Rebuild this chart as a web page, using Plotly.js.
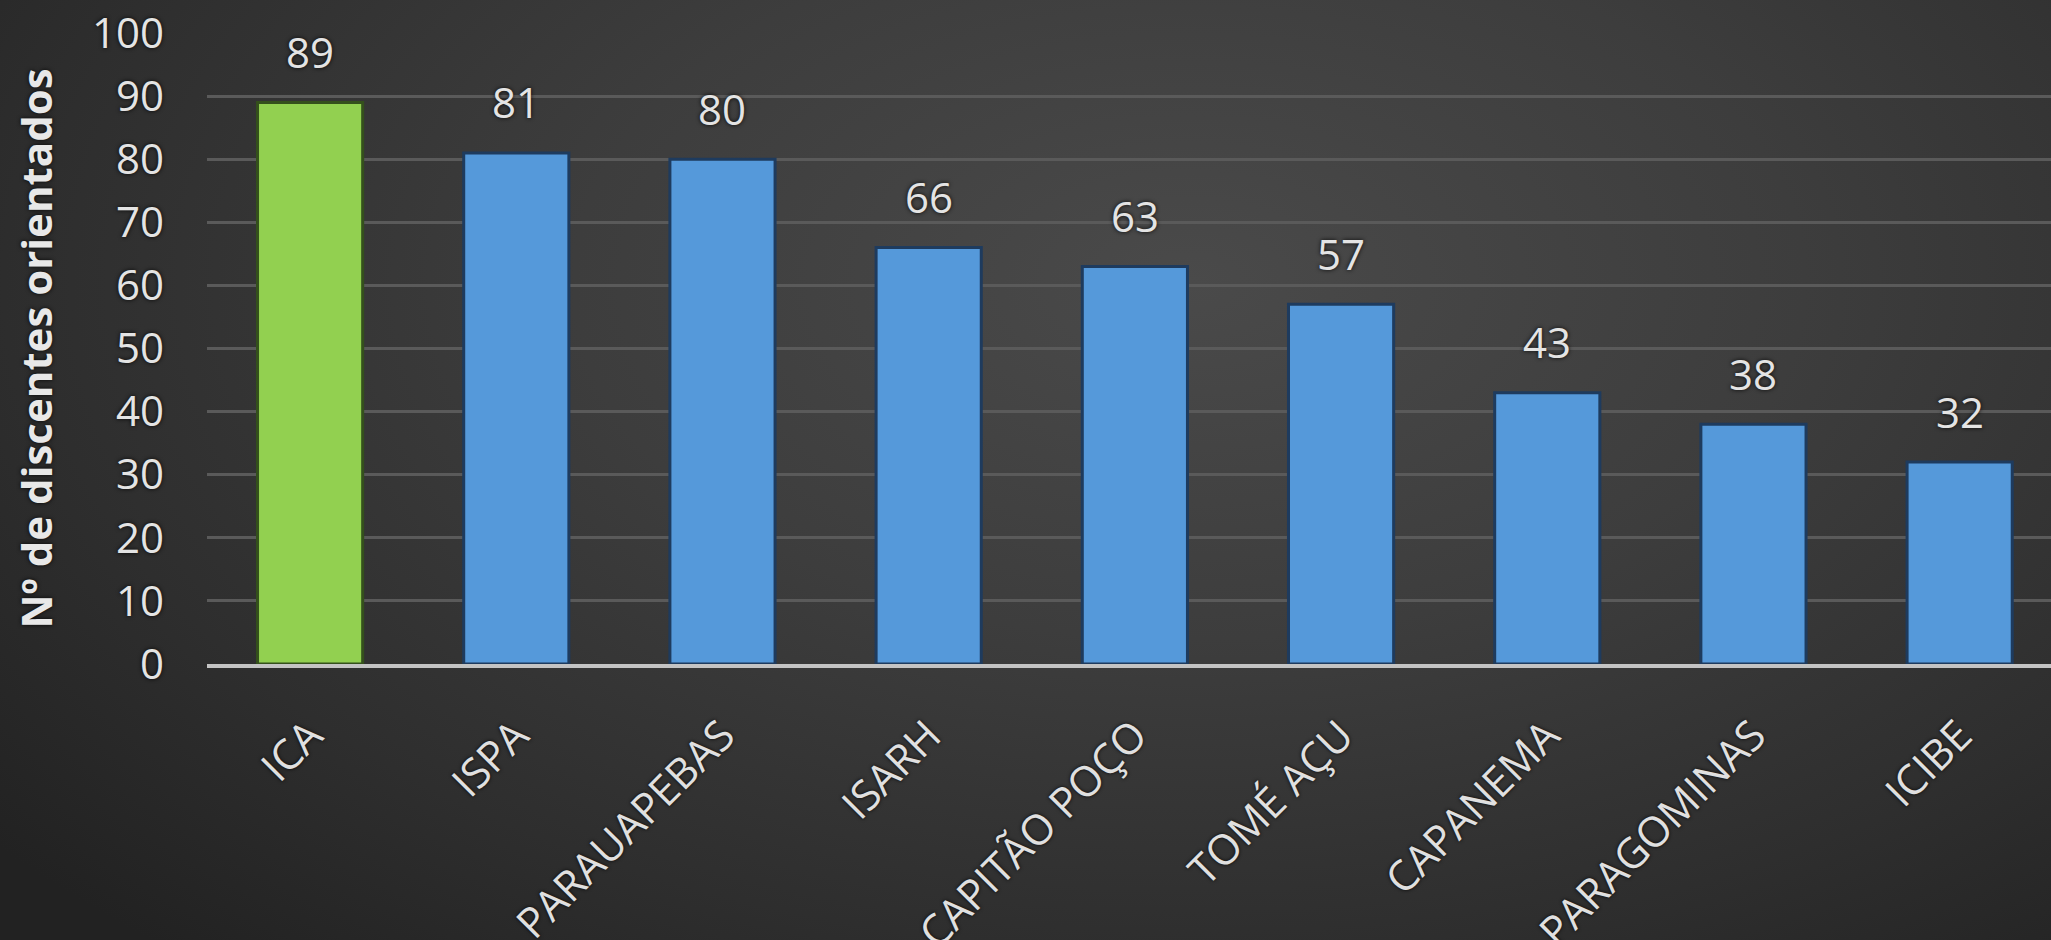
<!DOCTYPE html>
<html>
<head>
<meta charset="utf-8">
<script src="https://cdn.plot.ly/plotly-3.0.1.min.js"></script>
<style>
  html, body { margin: 0; padding: 0; width: 2051px; height: 940px; overflow: hidden; }
  body { background: radial-gradient(ellipse 75% 95% at 58% 30%, #4a4a4a 0%, #3d3d3d 40%, #2e2e2e 75%, #222222 100%); }
  #chart { width: 2051px; height: 940px; }
</style>
</head>
<body>
<div id="chart"></div>
<script>
const categories = ["ICA", "ISPA", "PARAUAPEBAS", "ISARH", "CAPITÃO POÇO", "TOMÉ AÇU", "CAPANEMA", "PARAGOMINAS", "ICIBE"];
const values = [89, 81, 80, 66, 63, 57, 43, 38, 32];
const barColors = ["#92d050", "#5599da", "#5599da", "#5599da", "#5599da", "#5599da", "#5599da", "#5599da", "#5599da"];
const edgeColors = ["#34501c", "#1e3b5e", "#1e3b5e", "#1e3b5e", "#1e3b5e", "#1e3b5e", "#1e3b5e", "#1e3b5e", "#1e3b5e"];
const yTickValues = [0, 10, 20, 30, 40, 50, 60, 70, 80, 90, 100];
const yTitle = "Nº de discentes orientados";

const textFont = { family: "Open Sans, sans-serif", size: 42, color: "#e4e4e4", shadow: "0px 0px 4px rgba(0,0,0,0.9)" };

const trace = {
  type: "bar",
  x: categories,
  y: values,
  marker: { color: barColors, line: { color: edgeColors, width: 3 } },
  hoverinfo: "x+y"
};

const annotations = categories.map((c, i) => ({
  x: c, y: values[i], xref: "x", yref: "y",
  text: String(values[i]),
  showarrow: false, yanchor: "middle", yshift: 51,
  font: textFont
}));

const layout = {
  width: 2051, height: 940,
  paper_bgcolor: "rgba(0,0,0,0)",
  plot_bgcolor: "rgba(0,0,0,0)",
  margin: { l: 207, r: 0, t: 33, b: 276 },
  bargap: 0.49,
  showlegend: false,
  xaxis: {
    type: "category",
    range: [-0.5, 8.443],
    tickangle: -45,
    tickfont: { family: "Open Sans, sans-serif", size: 42, color: "#e0e0e0", shadow: "0px 0px 4px rgba(0,0,0,0.9)" },
    showgrid: false,
    showline: true, linecolor: "#c4c4c4", linewidth: 4,
    ticks: "", ticklabelstandoff: 26,
    fixedrange: true
  },
  yaxis: {
    range: [0, 100],
    tickvals: yTickValues,
    tickfont: textFont,
    showgrid: true, gridcolor: "#5a5a5a", gridwidth: 3,
    zeroline: false,
    ticks: "", ticklabelstandoff: 42,
    title: { text: yTitle, font: { family: "Open Sans, sans-serif", size: 42, color: "#e8e8e8", weight: "bold", shadow: "0px 0px 4px rgba(0,0,0,0.9)" }, standoff: 26 },
    fixedrange: true
  },
  annotations: annotations
};

Plotly.newPlot("chart", [trace], layout, { displayModeBar: false, staticPlot: true });
</script>
</body>
</html>
